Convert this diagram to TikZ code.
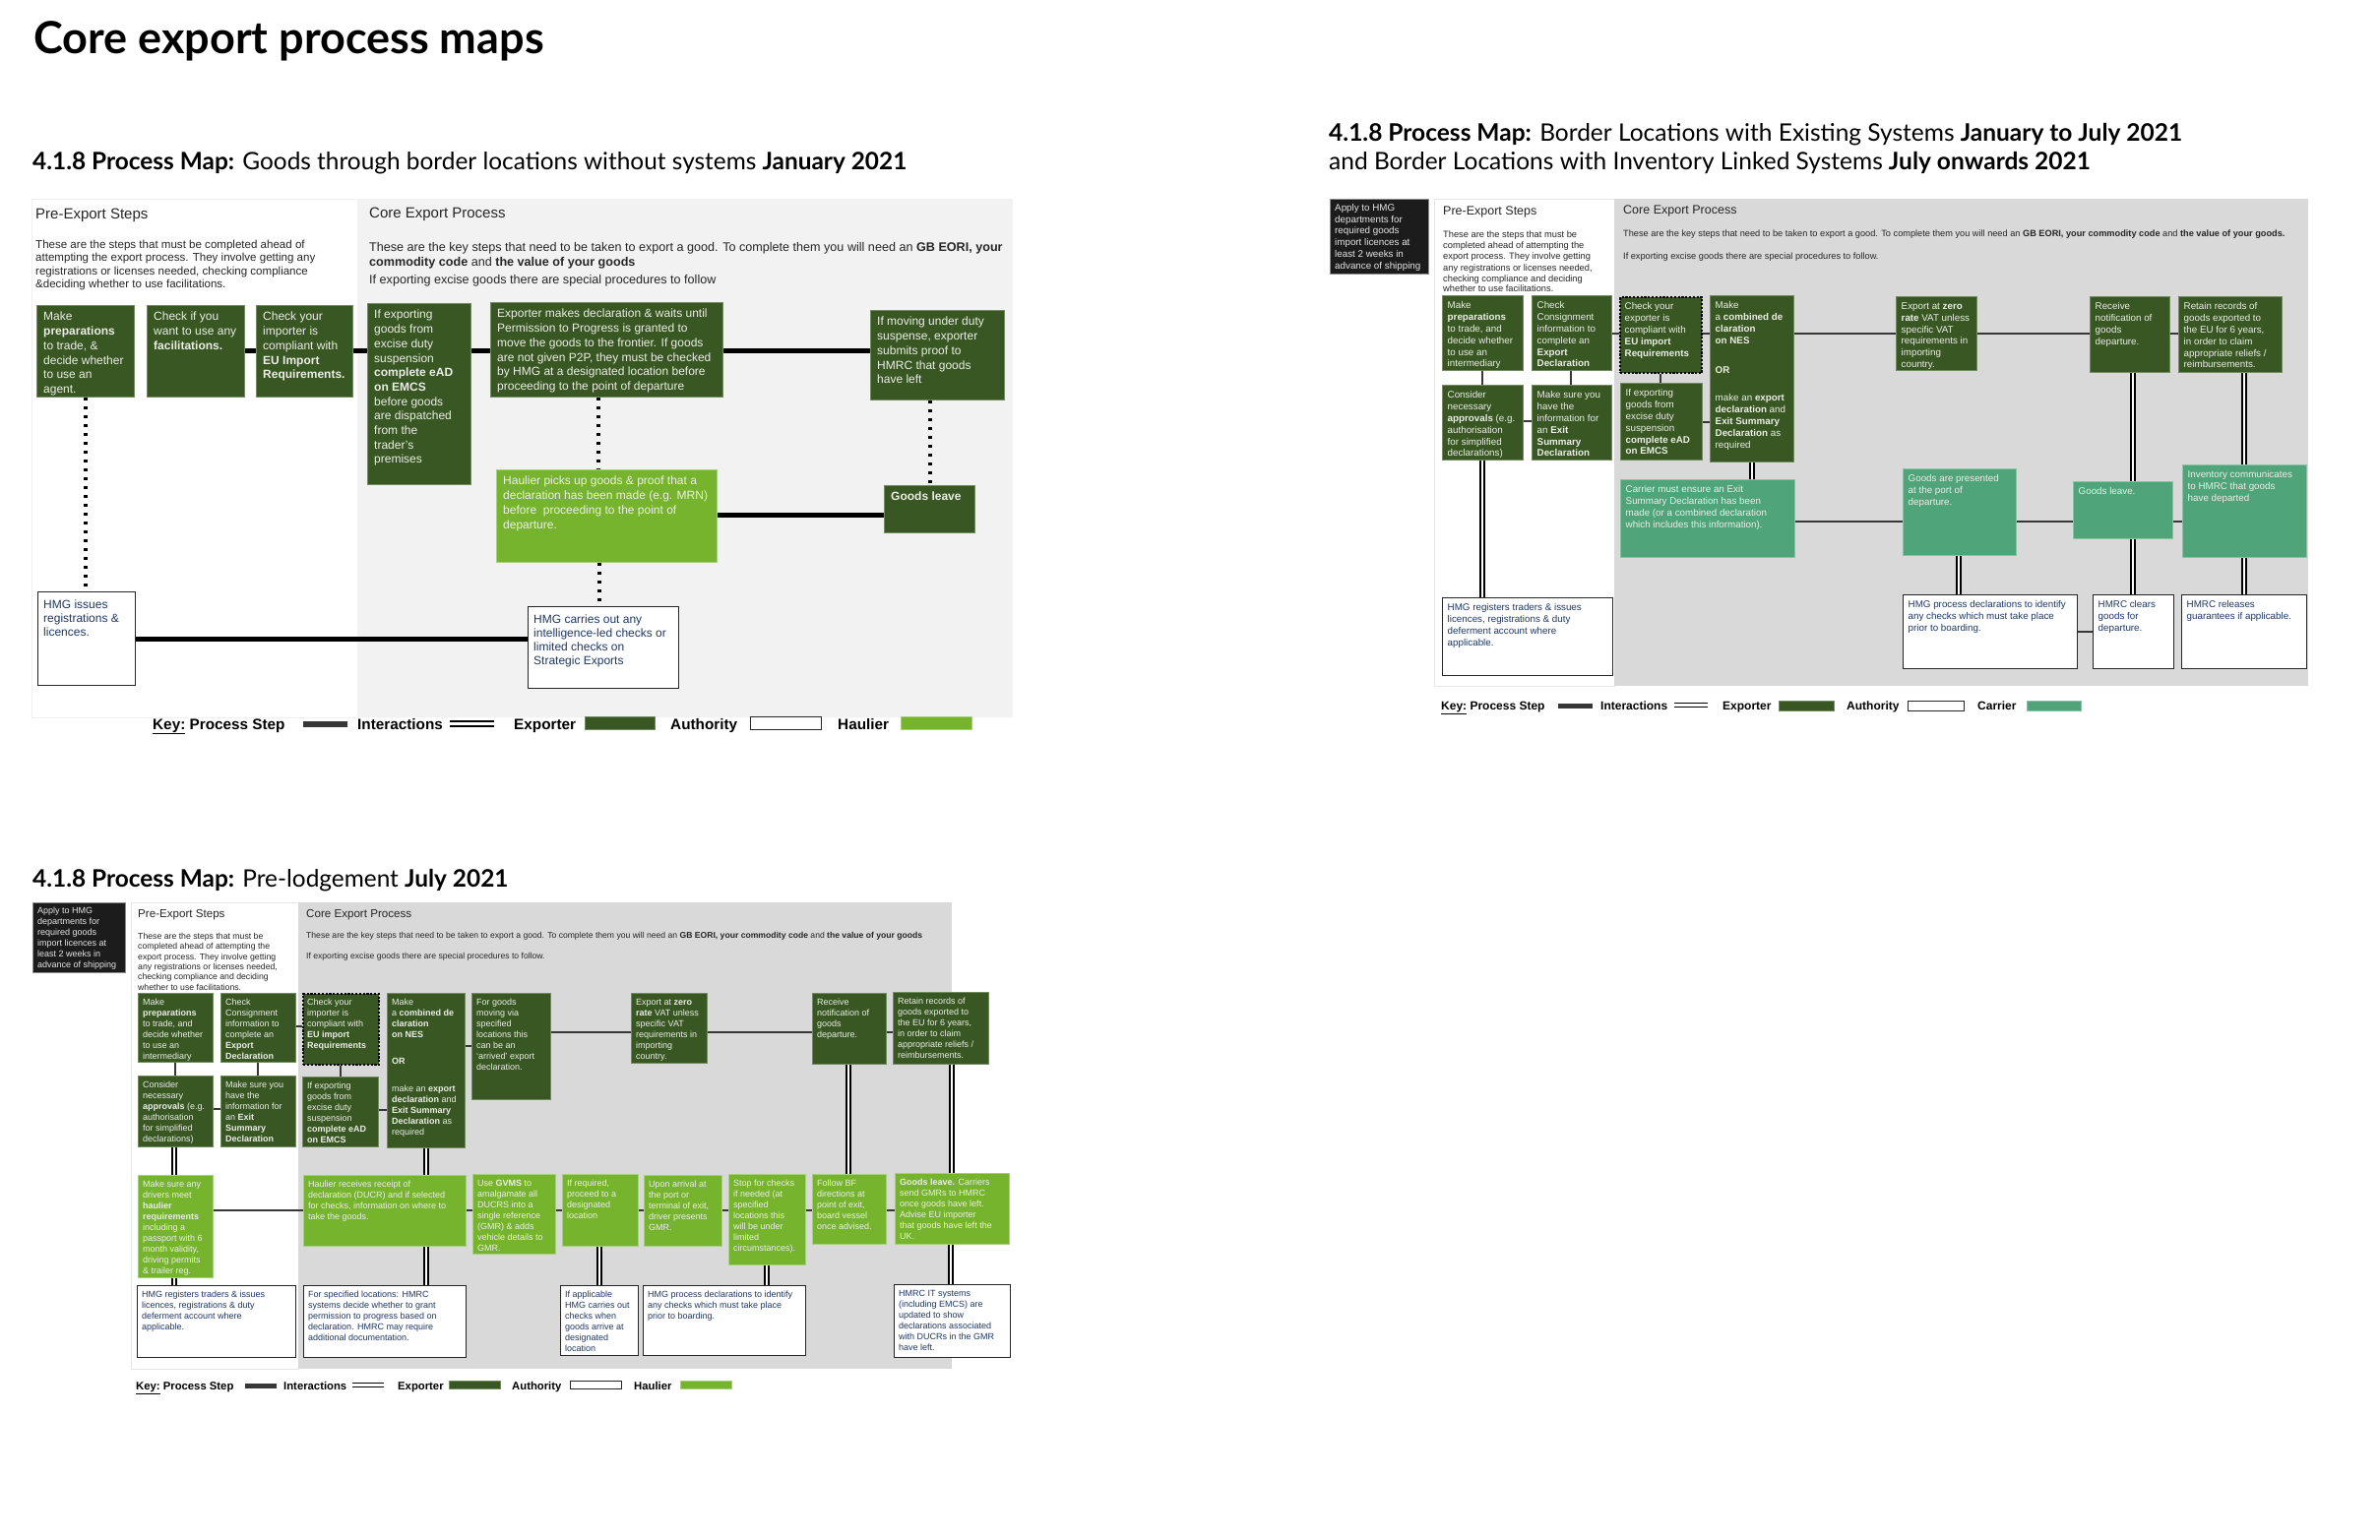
\documentclass[tikz,border=0pt]{standalone}
\usepackage{fontspec}
\setmainfont{Liberation Sans}
\newfontfamily\hfont{Lato}
\definecolor{expg}{RGB}{56,87,35}
\definecolor{expb}{RGB}{112,140,96}
\definecolor{haulg}{RGB}{118,180,46}
\definecolor{haulb}{RGB}{165,208,125}
\definecolor{carrg}{RGB}{80,164,122}
\definecolor{carrb}{RGB}{135,196,165}
\definecolor{bgA}{RGB}{242,242,242}
\definecolor{bgB}{RGB}{217,217,217}
\definecolor{navy}{RGB}{31,56,100}
\definecolor{boxtxt}{RGB}{236,238,230}
\definecolor{blk}{RGB}{28,28,28}
\definecolor{linec}{RGB}{55,55,55}
\tikzset{
 sexp/.style={fill=expg,draw=expb,line width=0.8pt,inner sep=0pt},
 shaul/.style={fill=haulg,draw=haulb,line width=0.8pt,inner sep=0pt},
 scarr/.style={fill=carrg,draw=carrb,line width=0.8pt,inner sep=0pt},
 sauth/.style={fill=white,draw=black!85,line width=1.3pt,inner sep=0pt},
 sdark/.style={fill=blk,draw=black!45,line width=0.8pt,inner sep=0pt},
 sdot/.style={fill=expg,draw=black,line width=2.2pt,dash pattern=on 2.2pt off 1.6pt,inner sep=0pt},
 fA/.style={font=\fontsize{12}{14.7}\selectfont,align=left,inner sep=0pt},
 fB/.style={font=\fontsize{9.8}{11.8}\selectfont,align=left,inner sep=0pt},
 fC/.style={font=\fontsize{9}{11}\selectfont,align=left,inner sep=0pt},
 tA/.style={fA,text=boxtxt,xshift=7pt,yshift=-7pt},
 tAw/.style={fA,font=\fontsize{12}{14}\selectfont,text=navy,xshift=6pt,yshift=-9pt},
 tB/.style={fB,text=boxtxt,xshift=5.5pt,yshift=-6.5pt},
 tBw/.style={fB,text=navy,xshift=5.5pt,yshift=-6.5pt},
 tBk/.style={fB,text=white!90!black,xshift=5pt,yshift=-5pt},
 tC/.style={fC,text=boxtxt,xshift=5pt,yshift=-6pt},
 tCw/.style={fC,text=navy,xshift=5pt,yshift=-6pt},
 tCk/.style={fC,text=white!90!black,xshift=5pt,yshift=-4.5pt},
 procA/.style={line width=5pt,black},
 procB/.style={line width=2.8pt,linec},
 sdbl/.style={draw=black,line width=1.5pt,double=white,double distance=2.4pt},
 dotline/.style={line width=4pt,black,dash pattern=on 3.5pt off 5.5pt},
 lbl/.style={anchor=base west,inner sep=0pt,text=black!85},
 keyA/.style={anchor=base west,inner sep=0pt,font=\fontsize{15.3}{17}\selectfont\bfseries},
 keyB/.style={anchor=base west,inner sep=0pt,font=\fontsize{12}{14}\selectfont\bfseries},
 keyC/.style={anchor=base west,inner sep=0pt,font=\fontsize{11.3}{13}\selectfont\bfseries},
 swatch/.style={anchor=north west,inner sep=0pt},
}
\newcommand\BX[8]{%
 \node[#1,anchor=north west,minimum width={#5pt-#3pt},minimum height={#6pt-#4pt}] (#2) at (#3,#4) {};
 \node[#7,anchor=north west] (#2t) at (#2.north west) {#8};}
\begin{document}
\begin{tikzpicture}[x=1pt,y=-1pt]
\path[use as bounding box,fill=white] (0,0) rectangle (2418,1564);
% ---------------- title ----------------
\node[anchor=base west,inner sep=0pt,font=\fontsize{45}{52}\selectfont\hfont\bfseries] (title) at (34,54) {Core export process maps};

% ================= PANEL 1 =================
\node[anchor=base west,inner sep=0pt,font=\fontsize{24.4}{28}\selectfont\hfont] (hA) at (33,172) {{\bfseries 4.1.8 Process Map:} Goods through border locations without systems {\bfseries January 2021}};
\path[fill=white,draw=black!6] (32,202) rectangle (363,729);
\path[fill=bgA] (363,202) rectangle (1029,729);
\node[lbl,font=\fontsize{15}{18}\selectfont] (preA) at (36,222) {Pre-Export Steps};
\node[lbl,font=\fontsize{15}{18}\selectfont] (coreA) at (375,221) {Core Export Process};
\node[lbl,font=\fontsize{11.55}{13}\selectfont] (dA1) at (36,252) {These are the steps that must be completed ahead of};
\node[lbl,font=\fontsize{11.55}{13}\selectfont] (dA2) at (36,265.5) {attempting the export process. They involve getting any};
\node[lbl,font=\fontsize{11.55}{13}\selectfont] (dA3) at (36,279) {registrations or licenses needed, checking compliance};
\node[lbl,font=\fontsize{11.55}{13}\selectfont] (dA4) at (36,292.5) {\&deciding whether to use facilitations.};
\node[lbl,font=\fontsize{12.6}{14}\selectfont] (eA1) at (375,255) {These are the key steps that need to be taken to export a good. To complete them you will need an \textbf{GB EORI, your}};
\node[lbl,font=\fontsize{12.6}{14}\selectfont] (eA2) at (375,270) {\textbf{commodity code} and \textbf{the value of your goods}};
\node[lbl,font=\fontsize{12.6}{14}\selectfont] (eA3) at (375,288) {If exporting excise goods there are special procedures to follow};

\BX{sexp}{a1}{37}{310}{136}{403}{tA}{Make\\\textbf{preparations}\\to trade, \&\\decide whether\\to use an\\agent.}
\BX{sexp}{a2}{149}{310}{248}{403}{tA}{Check if you\\want to use any\\\textbf{facilitations.}}
\BX{sexp}{a3}{260}{310}{358}{403}{tA}{Check your\\importer is\\compliant with\\\textbf{EU Import}\\\textbf{Requirements.}}
\BX{sexp}{a4}{373}{308}{478}{492}{tA}{If exporting\\goods from\\excise duty\\suspension\\\textbf{complete eAD}\\\textbf{on EMCS}\\before goods\\are dispatched\\from the\\trader's\\premises}
\BX{sexp}{a5}{498}{307}{734}{403}{tA}{Exporter makes declaration \& waits until\\Permission to Progress is granted to\\move the goods to the frontier. If goods\\are not given P2P, they must be checked\\by HMG at a designated location before\\proceeding to the point of departure}
\BX{sexp}{a6}{884}{315}{1020}{406}{tA}{If moving under duty\\suspense, exporter\\submits proof to\\HMRC that goods\\have left}
\BX{shaul}{a7}{504}{477}{728}{571}{tA}{Haulier picks up goods \& proof that a\\declaration has been made (e.g. MRN)\\before\ \ proceeding to the point of\\departure.}
\BX{sexp}{a8}{898}{493}{990}{541}{tA}{\textbf{Goods leave}}
\BX{sauth}{a9}{38}{601}{137}{696}{tAw}{HMG issues\\registrations \&\\licences.}
\BX{sauth}{a10}{536}{616}{689}{699}{tAw}{HMG carries out any\\intelligence-led checks or\\limited checks on\\Strategic Exports}

\draw[procA] (a2.east |- 0,356) -- (a3.west |- 0,356);
\draw[procA] (a3.east |- 0,356) -- (a4.west |- 0,356);
\draw[procA] (a4.east |- 0,356) -- (a5.west |- 0,356);
\draw[procA] (a5.east |- 0,356) -- (a6.west |- 0,356);
\draw[procA] (a7.east |- 0,523) -- (a8.west |- 0,523);
\draw[procA] (a9.east |- 0,649) -- (a10.west |- 0,649);
\draw[dotline] (a1.south -| 87,0) -- (a9.north -| 87,0);
\draw[dotline] (a5.south -| 608,0) -- (a7.north -| 608,0);
\draw[dotline] (a7.south -| 609,0) -- (a10.north -| 609,0);
\draw[dotline] (a6.south -| 945,0) -- (a8.north -| 945,0);

\node[keyA] (kA1) at (155,741) {\underline{Key:} Process Step};
\node[swatch,fill=linec,minimum width=45pt,minimum height=6pt] (kA2) at (308,733) {};
\node[keyA] (kA3) at (363,741) {Interactions};
\coordinate (kA4) at (457,735.5); \coordinate (kA5) at (502,735.5);
\draw[draw=black,line width=2pt,double=white,double distance=3pt] (kA4) -- (kA5);
\node[keyA] (kA6) at (522,741) {Exporter};
\node[sexp,swatch,minimum width=71pt,minimum height=13pt] (kA7) at (594,728) {};
\node[keyA] (kA8) at (681,741) {Authority};
\node[sauth,swatch,minimum width=72pt,minimum height=13pt] (kA9) at (762,728) {};
\node[keyA] (kA10) at (851,741) {Haulier};
\node[shaul,swatch,minimum width=72pt,minimum height=13pt] (kA11) at (915,728) {};

% ================= PANEL 2 =================
\node[anchor=base west,inner sep=0pt,font=\fontsize{24.5}{28}\selectfont\hfont] (hB1) at (1350,143) {{\bfseries 4.1.8 Process Map:} Border Locations with Existing Systems {\bfseries January to July 2021}};
\node[anchor=base west,inner sep=0pt,font=\fontsize{24.5}{28}\selectfont\hfont] (hB2) at (1350,172) {and Border Locations with Inventory Linked Systems {\bfseries July onwards 2021}};
\BX{sdark}{bA}{1351}{202}{1451}{278}{tBk}{Apply to HMG\\departments for\\required goods\\import licences at\\least 2 weeks in\\advance of shipping}
\path[fill=white,draw=black!10] (1457,202) rectangle (1640,697);
\path[fill=bgB] (1640,202) rectangle (2345,697);
\node[lbl,font=\fontsize{12.5}{15}\selectfont] (preB) at (1466,218) {Pre-Export Steps};
\node[lbl,font=\fontsize{12.5}{15}\selectfont] (coreB) at (1649,217) {Core Export Process};
\node[lbl,font=\fontsize{9.3}{11}\selectfont] (dB1) at (1466,241) {These are the steps that must be};
\node[lbl,font=\fontsize{9.3}{11}\selectfont] (dB2) at (1466,252) {completed ahead of attempting the};
\node[lbl,font=\fontsize{9.3}{11}\selectfont] (dB3) at (1466,263) {export process. They involve getting};
\node[lbl,font=\fontsize{9.3}{11}\selectfont] (dB4) at (1466,275) {any registrations or licenses needed,};
\node[lbl,font=\fontsize{9.3}{11}\selectfont] (dB5) at (1466,286) {checking compliance and deciding};
\node[lbl,font=\fontsize{9.3}{11}\selectfont] (dB6) at (1466,296) {whether to use facilitations.};
\node[lbl,font=\fontsize{9.2}{11}\selectfont] (eB1) at (1649,240) {These are the key steps that need to be taken to export a good. To complete them you will need an \textbf{GB EORI, your commodity code} and \textbf{the value of your goods.}};
\node[lbl,font=\fontsize{9.2}{11}\selectfont] (eB2) at (1649,263) {If exporting excise goods there are special procedures to follow.};

\BX{sexp}{c1}{1465}{300}{1547}{376}{tB}{Make\\\textbf{preparations}\\to trade, and\\decide whether\\to use an\\intermediary}
\BX{sexp}{c2}{1556}{300}{1637}{376}{tB}{Check\\Consignment\\information to\\complete an\\\textbf{Export}\\\textbf{Declaration}}
\BX{sdot}{c3}{1645}{301}{1728}{378}{tB}{Check your\\exporter is\\compliant with\\\textbf{EU import}\\\textbf{Requirements}}
\BX{sexp}{c4}{1737}{300}{1822}{469}{tB}{Make\\a \textbf{combined de}\\\textbf{claration}\\\textbf{on NES}\\[18pt]\textbf{OR}\\[17pt]make an \textbf{export}\\\textbf{declaration} and\\\textbf{Exit Summary}\\\textbf{Declaration} as\\required}
\BX{sexp}{c5}{1465}{391}{1547}{467}{tB}{Consider\\necessary\\\textbf{approvals} (e.g.\\authorisation\\for simplified\\declarations)}
\BX{sexp}{c6}{1556}{391}{1637}{467}{tB}{Make sure you\\have the\\information for\\an \textbf{Exit}\\\textbf{Summary}\\\textbf{Declaration}}
\BX{sexp}{c7}{1646}{389}{1729}{467}{tB}{If exporting\\goods from\\excise duty\\suspension\\\textbf{complete eAD}\\\textbf{on EMCS}}
\BX{sexp}{c8}{1926}{301}{2008}{376}{tB}{Export at \textbf{zero}\\\textbf{rate} VAT unless\\specific VAT\\requirements in\\importing\\country.}
\BX{sexp}{c9}{2123}{301}{2204}{378}{tB}{Receive\\notification of\\goods\\departure.}
\BX{sexp}{c10}{2213}{301}{2318}{378}{tB}{Retain records of\\goods exported to\\the EU for 6 years,\\in order to claim\\appropriate reliefs /\\reimbursements.}
\BX{scarr}{c11}{1646}{487}{1823}{566}{tB}{Carrier must ensure an Exit\\Summary Declaration has been\\made (or a combined declaration\\which includes this information).}
\BX{scarr}{c12}{1933}{476}{2048}{564}{tB}{Goods are presented\\at the port of\\departure.}
\BX{scarr}{c13}{2106}{489}{2207}{547}{tB}{Goods leave.}
\BX{scarr}{c14}{2217}{472}{2343}{566}{tB}{Inventory communicates\\to HMRC that goods\\have departed}
\BX{sauth}{c15}{1465}{607}{1638}{686}{tBw}{HMG registers traders \& issues\\licences, registrations \& duty\\deferment account where\\applicable.}
\BX{sauth}{c16}{1933}{604}{2110}{679}{tBw}{HMG process declarations to identify\\any checks which must take place\\prior to boarding.}
\BX{sauth}{c17}{2126}{604}{2208}{679}{tBw}{HMRC clears\\goods for\\departure.}
\BX{sauth}{c18}{2216}{604}{2343}{679}{tBw}{HMRC releases\\guarantees if applicable.}

\draw[procB] (c2.east |- 0,339) -- (c3.west |- 0,339);
\draw[procB] (c3.east |- 0,339) -- (c4.west |- 0,339);
\draw[procB] (c4.east |- 0,339) -- (c8.west |- 0,339);
\draw[procB] (c8.east |- 0,339) -- (c9.west |- 0,339);
\draw[procB] (c9.east |- 0,339) -- (c10.west |- 0,339);
\draw[procB] (c5.east |- 0,428) -- (c6.west |- 0,428);
\draw[procB] (c7.east |- 0,429) -- (c4.west |- 0,429);
\draw[procB] (c1.south -| 1506,0) -- (c5.north -| 1506,0);
\draw[procB] (c2.south -| 1596,0) -- (c6.north -| 1596,0);
\draw[procB] (c3.south -| 1687,0) -- (c7.north -| 1687,0);
\draw[procB] (c11.east |- 0,530) -- (c12.west |- 0,530);
\draw[procB] (c12.east |- 0,530) -- (c13.west |- 0,530);
\draw[procB] (c13.east |- 0,530) -- (c14.west |- 0,530);
\draw[procB] (c16.east |- 0,642) -- (c17.west |- 0,642);
\draw[sdbl] (c5.south -| 1506,0) -- (c15.north -| 1506,0);
\draw[sdbl] (c4.south -| 1780,0) -- (c11.north -| 1780,0);
\draw[sdbl] (c9.south -| 2167,0) -- (c13.north -| 2167,0);
\draw[sdbl] (c13.south -| 2167,0) -- (c17.north -| 2167,0);
\draw[sdbl] (c10.south -| 2280,0) -- (c14.north -| 2280,0);
\draw[sdbl] (c14.south -| 2280,0) -- (c18.north -| 2280,0);
\draw[sdbl] (c12.south -| 1990,0) -- (c16.north -| 1990,0);

\node[keyB] (kB1) at (1464,721) {\underline{Key:} Process Step};
\node[swatch,fill=linec,minimum width=35pt,minimum height=4.5pt] (kB2) at (1583,715) {};
\node[keyB] (kB3) at (1626,721) {Interactions};
\coordinate (kB4) at (1701,716.5); \coordinate (kB5) at (1735,716.5);
\draw[sdbl] (kB4) -- (kB5);
\node[keyB] (kB6) at (1750,721) {Exporter};
\node[sexp,swatch,minimum width=56pt,minimum height=10pt] (kB7) at (1807,712) {};
\node[keyB] (kB8) at (1876,721) {Authority};
\node[sauth,swatch,minimum width=57pt,minimum height=10pt] (kB9) at (1938,712) {};
\node[keyB] (kB10) at (2009,721) {Carrier};
\node[scarr,swatch,minimum width=55pt,minimum height=10pt] (kB11) at (2059,712) {};

% ================= PANEL 3 =================
\node[anchor=base west,inner sep=0pt,font=\fontsize{24.4}{28}\selectfont\hfont] (hC) at (33,901) {{\bfseries 4.1.8 Process Map:} Pre-lodgement {\bfseries July 2021}};
\BX{sdark}{dC}{33}{917}{127}{988}{tCk}{Apply to HMG\\departments for\\required goods\\import licences at\\least 2 weeks in\\advance of shipping}
\path[fill=white,draw=black!10] (133,917) rectangle (303,1391);
\path[fill=bgB] (303,917) rectangle (967,1391);
\node[lbl,font=\fontsize{11.6}{14}\selectfont] (preC) at (140,932) {Pre-Export Steps};
\node[lbl,font=\fontsize{11.6}{14}\selectfont] (coreC) at (311,932) {Core Export Process};
\node[lbl,font=\fontsize{8.7}{10}\selectfont] (dC1) at (140,954) {These are the steps that must be};
\node[lbl,font=\fontsize{8.7}{10}\selectfont] (dC2) at (140,964) {completed ahead of attempting the};
\node[lbl,font=\fontsize{8.7}{10}\selectfont] (dC3) at (140,975) {export process. They involve getting};
\node[lbl,font=\fontsize{8.7}{10}\selectfont] (dC4) at (140,985) {any registrations or licenses needed,};
\node[lbl,font=\fontsize{8.7}{10}\selectfont] (dC5) at (140,995) {checking compliance and deciding};
\node[lbl,font=\fontsize{8.7}{10}\selectfont] (dC6) at (140,1006) {whether to use facilitations.};
\node[lbl,font=\fontsize{8.6}{10}\selectfont] (eC1) at (311,953) {These are the key steps that need to be taken to export a good. To complete them you will need an \textbf{GB EORI, your commodity code} and \textbf{the value of your goods}};
\node[lbl,font=\fontsize{8.6}{10}\selectfont] (eC2) at (311,974) {If exporting excise goods there are special procedures to follow.};

\BX{sexp}{e1}{140}{1009}{216}{1079}{tC}{Make\\\textbf{preparations}\\to trade, and\\decide whether\\to use an\\intermediary}
\BX{sexp}{e2}{224}{1009}{300}{1079}{tC}{Check\\Consignment\\information to\\complete an\\\textbf{Export}\\\textbf{Declaration}}
\BX{sdot}{e3}{307}{1009}{384}{1081}{tC}{Check your\\importer is\\compliant with\\\textbf{EU import}\\\textbf{Requirements}}
\BX{sexp}{e4}{393}{1009}{472}{1166}{tC}{Make\\a \textbf{combined de}\\\textbf{claration}\\\textbf{on NES}\\[16pt]\textbf{OR}\\[17pt]make an \textbf{export}\\\textbf{declaration} and\\\textbf{Exit Summary}\\\textbf{Declaration} as\\required}
\BX{sexp}{e5}{479}{1009}{559}{1117}{tC}{For goods\\moving via\\specified\\locations this\\can be an\\`arrived' export\\declaration.}
\BX{sexp}{e6}{140}{1093}{216}{1165}{tC}{Consider\\necessary\\\textbf{approvals} (e.g.\\authorisation\\for simplified\\declarations)}
\BX{sexp}{e7}{224}{1093}{300}{1165}{tC}{Make sure you\\have the\\information for\\an \textbf{Exit}\\\textbf{Summary}\\\textbf{Declaration}}
\BX{sexp}{e8}{307}{1094}{384}{1165}{tC}{If exporting\\goods from\\excise duty\\suspension\\\textbf{complete eAD}\\\textbf{on EMCS}}
\BX{sexp}{e9}{641}{1009}{718}{1080}{tC}{Export at \textbf{zero}\\\textbf{rate} VAT unless\\specific VAT\\requirements in\\importing\\country.}
\BX{sexp}{e10}{825}{1009}{900}{1081}{tC}{Receive\\notification of\\goods\\departure.}
\BX{sexp}{e11}{907}{1008}{1004}{1081}{tC}{Retain records of\\goods exported to\\the EU for 6 years,\\in order to claim\\appropriate reliefs /\\reimbursements.}
\BX{shaul}{f1}{140}{1194}{216}{1298}{tC}{Make sure any\\drivers meet\\\textbf{haulier}\\\textbf{requirements}\\including a\\passport with 6\\month validity,\\driving permits\\\& trailer reg.}
\BX{shaul}{f2}{308}{1194}{473}{1266}{tC}{Haulier receives receipt of\\declaration (DUCR) and if selected\\for checks, information on where to\\take the goods.}
\BX{shaul}{f3}{480}{1193}{564}{1274}{tC}{Use \textbf{GVMS} to\\amalgamate all\\DUCRS into a\\single reference\\(GMR) \& adds\\vehicle details to\\GMR.}
\BX{shaul}{f4}{571}{1193}{648}{1266}{tC}{If required,\\proceed to a\\designated\\location}
\BX{shaul}{f5}{654}{1194}{733}{1266}{tC}{Upon arrival at\\the port or\\terminal of exit,\\driver presents\\GMR.}
\BX{shaul}{f6}{740}{1193}{818}{1285}{tC}{Stop for checks\\if needed (at\\specified\\locations this\\will be under\\limited\\circumstances).}
\BX{shaul}{f7}{825}{1193}{900}{1264}{tC}{Follow BF\\directions at\\point of exit,\\board vessel\\once advised.}
\BX{shaul}{f8}{909}{1192}{1025}{1264}{tC}{\textbf{Goods leave.} Carriers\\send GMRs to HMRC\\once goods have left.\\Advise EU importer\\that goods have left the\\UK.}
\BX{sauth}{g1}{139}{1306}{300}{1379}{tCw}{HMG registers traders \& issues\\licences, registrations \& duty\\deferment account where\\applicable.}
\BX{sauth}{g2}{308}{1306}{473}{1379}{tCw}{For specified locations: HMRC\\systems decide whether to grant\\permission to progress based on\\declaration. HMRC may require\\additional documentation.}
\BX{sauth}{g3}{569}{1306}{648}{1377}{tCw}{If applicable\\HMG carries out\\checks when\\goods arrive at\\designated\\location}
\BX{sauth}{g4}{653}{1306}{818}{1377}{tCw}{HMG process declarations to identify\\any checks which must take place\\prior to boarding.}
\BX{sauth}{g5}{908}{1305}{1026}{1379}{tCw}{HMRC IT systems\\(including EMCS) are\\updated to show\\declarations associated\\with DUCRs in the GMR\\have left.}

\draw[procB] (e2.east |- 0,1043) -- (e3.west |- 0,1043);
\draw[procB] (e4.east |- 0,1063) -- (e5.west |- 0,1063);
\draw[procB] (e5.east |- 0,1049) -- (e9.west |- 0,1049);
\draw[procB] (e9.east |- 0,1049) -- (e10.west |- 0,1049);
\draw[procB] (e10.east |- 0,1049) -- (e11.west |- 0,1049);
\draw[procB] (e6.east |- 0,1127) -- (e7.west |- 0,1127);
\draw[procB] (e8.east |- 0,1128) -- (e4.west |- 0,1128);
\draw[procB] (e1.south -| 178,0) -- (e6.north -| 178,0);
\draw[procB] (e2.south -| 262,0) -- (e7.north -| 262,0);
\draw[procB] (e3.south -| 346,0) -- (e8.north -| 346,0);
\draw[procB] (f1.east |- 0,1230) -- (f2.west |- 0,1230);
\draw[procB] (f2.east |- 0,1230) -- (f3.west |- 0,1230);
\draw[procB] (f3.east |- 0,1230) -- (f4.west |- 0,1230);
\draw[procB] (f4.east |- 0,1230) -- (f5.west |- 0,1230);
\draw[procB] (f5.east |- 0,1230) -- (f6.west |- 0,1230);
\draw[procB] (f6.east |- 0,1230) -- (f7.west |- 0,1230);
\draw[procB] (f7.east |- 0,1230) -- (f8.west |- 0,1230);
\draw[sdbl] (e6.south -| 177,0) -- (f1.north -| 177,0);
\draw[sdbl] (f1.south -| 177,0) -- (g1.north -| 177,0);
\draw[sdbl] (e4.south -| 433,0) -- (f2.north -| 433,0);
\draw[sdbl] (f2.south -| 433,0) -- (g2.north -| 433,0);
\draw[sdbl] (f4.south -| 609,0) -- (g3.north -| 609,0);
\draw[sdbl] (f6.south -| 779,0) -- (g4.north -| 779,0);
\draw[sdbl] (e10.south -| 862,0) -- (f7.north -| 862,0);
\draw[sdbl] (e11.south -| 967,0) -- (f8.north -| 967,0);
\draw[sdbl] (f8.south -| 966,0) -- (g5.north -| 966,0);

\node[keyC] (kC1) at (138,1412) {\underline{Key:} Process Step};
\node[swatch,fill=linec,minimum width=32pt,minimum height=4.5pt] (kC2) at (249,1406) {};
\node[keyC] (kC3) at (288,1412) {Interactions};
\coordinate (kC4) at (358,1407.5); \coordinate (kC5) at (390,1407.5);
\draw[sdbl] (kC4) -- (kC5);
\node[keyC] (kC6) at (404,1412) {Exporter};
\node[sexp,swatch,minimum width=52pt,minimum height=8pt] (kC7) at (456,1403) {};
\node[keyC] (kC8) at (520,1412) {Authority};
\node[sauth,swatch,minimum width=52pt,minimum height=8pt] (kC9) at (579,1403) {};
\node[keyC] (kC10) at (644,1412) {Haulier};
\node[shaul,swatch,minimum width=52pt,minimum height=8pt] (kC11) at (691,1403) {};
\end{tikzpicture}
\end{document}
